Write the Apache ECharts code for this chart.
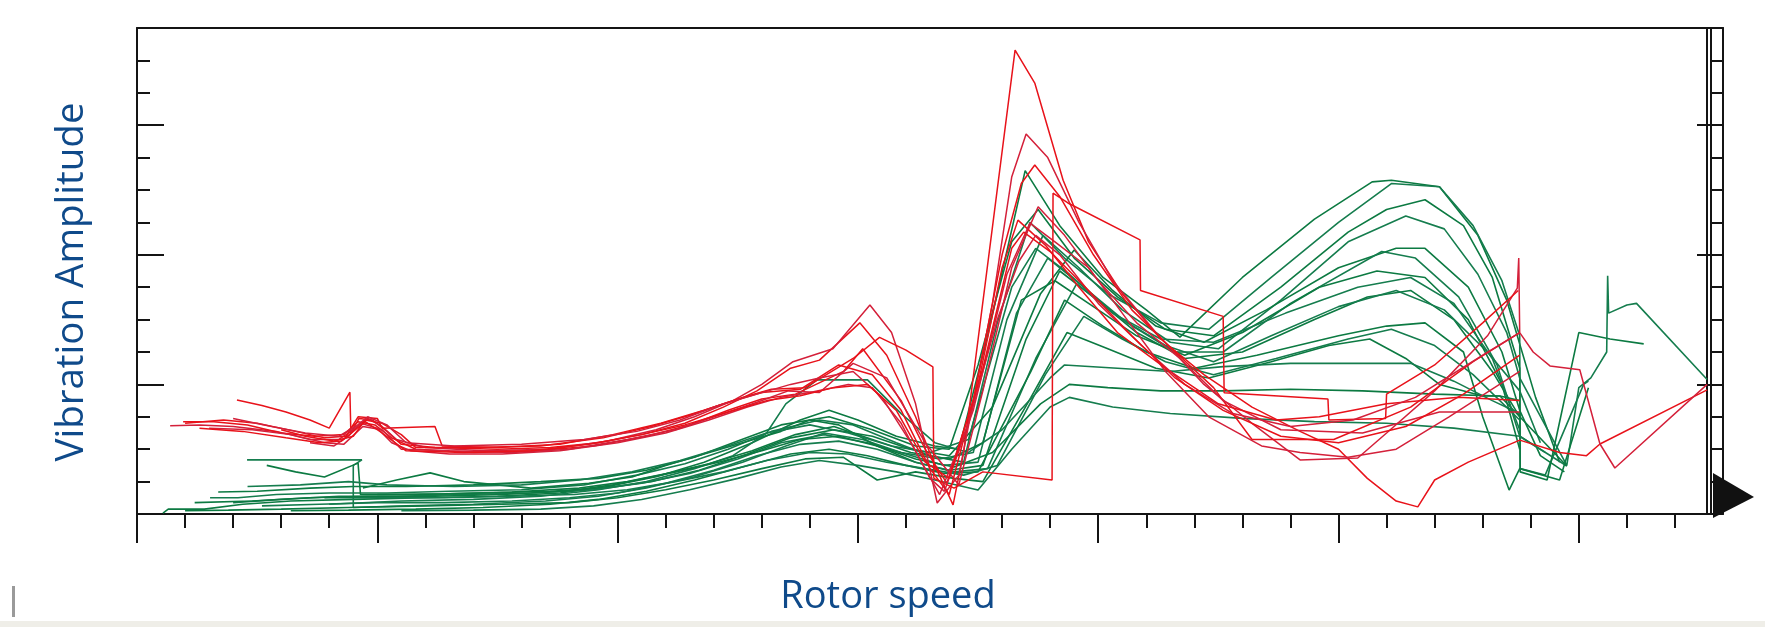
<!DOCTYPE html>
<html lang="en">
<head>
<meta charset="UTF-8">
<title>Vibration amplitude vs rotor speed</title>
<script src="https://cdn.jsdelivr.net/npm/echarts@6/dist/echarts.min.js"></script>
<style>
    html, body { margin: 0; padding: 0; background: #fff; }
    #container { width: 1765px; height: 627px; }
</style>
</head>
<body>
<div id="container"></div>
<script type="text/javascript">
// x = rotor speed, y = vibration amplitude, both in small-tick units
// red runs
const red1 = [[2.08,3.52],[2.6,3.35],[3.1,3.15],[3.6,2.9],[4.0,2.65],[4.43,3.76],[4.45,2.5],[4.62,2.95],[4.9,2.9],[5.2,2.55],[5.5,2.15],[6.2,2.05],[7.5,2.0],[8.6,2.05],[9.6,2.2],[10.5,2.45],[11.4,2.8],[12.2,3.3],[12.9,3.8],[13.6,4.5],[14.2,4.75],[15.04,5.9],[15.6,4.9],[16.2,3.0],[16.6,1.5],[16.98,0.28],[17.2,1.9],[18.27,14.32],[18.68,13.3],[19.27,10.3],[19.8,8.4],[20.5,6.8],[21.3,5.4],[22.2,4.3],[23.2,3.3],[24.2,2.55],[25.0,2.0],[25.6,1.1],[26.2,0.4],[26.65,0.22],[27.0,1.05],[27.7,1.6],[28.77,2.28],[29.6,1.9],[30.16,1.8],[30.44,2.16],[32.67,3.83]];
const red2 = [[0.69,2.72],[1.3,2.75],[2.0,2.7],[2.9,2.55],[3.6,2.3],[4.2,2.3],[4.5,2.6],[4.8,2.95],[5.1,2.7],[5.4,2.3],[6.0,2.05],[7.2,1.95],[8.6,2.0],[9.8,2.25],[10.8,2.6],[11.6,3.0],[12.4,3.5],[13.0,4.0],[13.65,4.7],[14.48,5.1],[15.25,6.45],[15.7,5.6],[16.2,3.4],[16.65,0.34],[17.1,1.2],[17.8,6.5],[18.2,10.4],[18.5,11.73],[18.95,11.0],[19.6,9.0],[20.3,7.2],[21.2,5.6],[22.2,4.0],[23.2,2.8],[24.2,1.67],[25.4,1.73],[26.0,2.5],[27.0,3.8],[28.1,5.5],[28.72,6.97],[28.75,7.9],[28.77,5.6],[29.05,5.0],[29.4,4.57],[30.02,4.45],[30.44,2.16],[30.75,1.42],[32.67,4.0]];
const red3 = [[0.96,2.85],[1.6,2.85],[2.3,2.75],[3.0,2.5],[3.7,2.4],[4.3,2.45],[4.6,2.85],[4.95,2.75],[5.3,2.35],[5.8,2.0],[7.0,1.9],[8.3,1.95],[9.5,2.1],[10.6,2.4],[11.5,2.75],[12.3,3.2],[13.0,3.55],[13.7,3.7],[14.7,4.4],[15.1,5.1],[15.9,3.5],[16.4,2.0],[16.85,0.95],[17.4,3.5],[18.0,8.0],[18.4,10.2],[18.68,10.77],[19.2,9.8],[19.9,8.0],[20.7,6.3],[21.6,5.0],[22.4,3.9],[23.2,2.3],[24.9,2.3],[26.5,3.3],[27.8,4.7],[28.77,5.6]];
const red4 = [[1.5,2.65],[2.4,2.6],[3.2,2.45],[3.9,2.2],[4.3,2.15],[4.7,2.7],[5.1,2.6],[5.5,2.0],[6.5,1.95],[7.8,1.9],[9.0,2.0],[10.2,2.3],[11.2,2.6],[12.1,3.05],[12.9,3.45],[13.55,3.8],[14.2,3.75],[14.9,4.65],[15.6,4.2],[16.4,2.2],[17.1,0.9],[17.6,3.8],[18.2,7.6],[18.75,9.48],[19.3,8.6],[20.0,7.2],[20.8,5.9],[21.7,4.8],[22.6,3.5],[23.8,2.6],[25.5,2.5],[27.1,3.15],[28.77,3.15]];
const red5 = [[3.0,2.6],[3.5,2.4],[4.1,2.25],[4.5,2.4],[4.75,2.9],[5.1,2.8],[5.5,2.45],[5.8,2.05],[7.0,2.05],[8.4,2.1],[9.7,2.35],[10.7,2.7],[11.5,3.05],[12.3,3.45],[13.0,3.75],[13.8,3.85],[14.6,4.6],[15.3,4.3],[15.9,3.2],[16.5,1.4],[16.9,0.6],[17.5,4.0],[18.0,7.6],[18.33,9.07],[18.9,8.3],[19.6,7.0],[20.4,5.6],[21.4,4.5],[22.5,3.4],[23.7,2.9],[24.6,3.0],[26.0,3.4],[27.5,3.6],[28.77,3.5]];
const red6 = [[3.6,2.2],[4.1,2.1],[4.4,2.4],[4.65,2.8],[5.0,2.65],[5.3,2.2],[5.7,1.95],[6.5,1.85],[7.6,1.85],[8.8,1.95],[10.0,2.2],[11.0,2.5],[11.9,2.9],[12.7,3.3],[13.4,3.6],[14.0,3.75],[14.8,4.0],[15.3,3.9],[15.9,2.8],[16.5,1.1],[16.8,0.7],[17.4,3.2],[18.1,7.4],[18.58,8.98],[19.1,8.4],[19.8,7.6],[20.6,6.0],[21.4,4.4],[22.3,3.0],[23.4,2.1],[24.2,1.9],[25.2,1.75],[26.2,2.0],[27.3,3.0],[28.77,4.4]];
const red7 = [[1.0,2.8],[1.8,2.9],[2.5,2.8],[3.3,2.55],[3.9,2.35],[4.35,2.4],[4.6,3.0],[5.0,2.95],[5.1,2.65],[6.2,2.7],[6.35,2.1],[7.5,2.05],[8.8,2.15],[9.9,2.45],[10.9,2.8],[11.8,3.2],[12.6,3.6],[13.2,3.85],[13.9,3.9],[14.9,4.8],[15.45,5.45],[16.0,5.06],[16.56,4.54],[16.58,1.1],[17.0,0.8],[17.6,1.3],[19.04,1.05],[19.06,9.9],[19.37,9.6],[20.87,8.46],[20.88,6.9],[22.6,6.1],[22.62,3.74],[24.78,3.55],[24.8,2.9],[25.98,2.95],[26.0,3.7],[27.0,4.6],[28.0,5.9],[28.74,6.9]];
const red8 = [[2.0,2.95],[2.8,2.7],[3.5,2.5],[4.2,2.4],[4.55,2.7],[4.8,3.0],[5.2,2.75],[5.6,2.2],[6.6,2.1],[8.0,2.15],[9.3,2.3],[10.4,2.55],[11.3,2.9],[12.1,3.35],[12.9,3.7],[13.6,4.0],[14.2,4.2],[14.9,4.4],[15.5,3.6],[16.1,2.2],[16.7,0.6],[17.3,2.8],[17.9,6.0],[18.35,7.8],[18.7,8.6],[19.2,8.0],[20.0,6.5],[20.9,5.2],[21.8,4.0],[22.8,3.1],[24.0,2.7],[25.3,2.9],[26.6,3.6],[28.0,4.9],[28.77,5.6]];
const red9 = [[1.3,2.65],[2.2,2.55],[3.1,2.35],[3.8,2.2],[4.25,2.25],[4.5,2.55],[4.75,2.85],[5.1,2.5],[5.6,1.95],[6.8,1.9],[8.2,1.95],[9.4,2.15],[10.5,2.45],[11.4,2.75],[12.3,3.15],[13.1,3.5],[13.8,3.65],[14.5,3.9],[15.2,4.0],[15.8,3.2],[16.4,1.6],[16.9,1.1],[17.6,4.5],[18.2,8.2],[18.45,8.7],[19.0,8.1],[19.8,6.9],[20.7,5.5],[21.6,4.2],[22.6,3.2],[23.8,2.4],[25.0,2.2],[26.4,2.7],[27.6,3.7],[28.77,4.9]];

// green runs
const green1 = [[0.54,0.03],[0.65,0.15],[1.4,0.15],[2.2,0.3],[3.2,0.4],[4.5,0.45],[6.0,0.5],[7.5,0.55],[8.8,0.65],[9.8,0.85],[10.8,1.15],[11.8,1.6],[12.8,2.2],[13.8,2.9],[14.4,3.2],[15.0,2.9],[15.8,2.4],[16.6,2.1],[17.1,2.0],[17.7,5.5],[18.48,10.6],[19.2,8.9],[20.1,7.3],[21.0,6.3],[21.7,5.46],[23.0,7.3],[24.5,9.1],[25.7,10.25],[26.1,10.3],[27.1,10.1],[27.9,8.6],[28.5,6.6],[29.1,3.6],[29.6,1.6]];
const green2 = [[1.52,0.5],[2.1,0.5],[2.9,0.6],[4.0,0.65],[5.2,0.65],[6.5,0.7],[8.0,0.75],[9.3,0.9],[10.4,1.2],[11.4,1.55],[12.3,2.0],[13.2,2.55],[14.2,2.9],[14.9,2.75],[15.8,2.2],[16.5,1.8],[17.2,1.6],[17.9,5.9],[18.58,9.0],[19.3,7.9],[20.2,6.8],[21.3,5.9],[22.3,5.7],[23.6,7.3],[25.0,9.0],[26.1,10.2],[27.1,10.1],[27.8,8.9],[28.4,7.2],[28.77,5.5],[28.78,1.4],[29.3,1.2],[30.1,4.0],[30.2,4.1]];
const green3 = [[1.69,0.68],[2.5,0.7],[3.6,0.8],[4.5,0.85],[5.6,0.85],[7.0,0.9],[8.4,1.0],[9.6,1.1],[10.6,1.35],[11.6,1.75],[12.5,2.25],[13.4,2.75],[14.4,3.0],[15.3,2.6],[16.2,2.1],[16.9,2.0],[17.5,4.6],[18.2,8.4],[18.75,9.4],[19.5,7.9],[20.4,6.7],[21.4,5.7],[22.4,5.5],[23.8,7.0],[25.2,8.7],[26.0,9.4],[26.8,9.7],[27.6,8.9],[28.2,7.3],[28.77,4.5],[28.78,1.3],[29.34,1.05],[30.0,5.6],[30.65,5.4],[31.35,5.25]];
const green4 = [[2.29,1.67],[4.68,1.67],[4.5,1.5],[4.5,0.2],[5.6,0.25],[7.0,0.3],[8.5,0.4],[9.6,0.55],[10.6,0.8],[11.6,1.15],[12.6,1.6],[13.5,2.1],[14.3,2.5],[15.1,2.3],[15.9,1.9],[16.7,1.7],[17.4,1.9],[18.1,6.0],[18.85,8.6],[19.6,7.6],[20.5,6.3],[21.5,5.3],[22.5,5.1],[23.8,6.6],[25.2,8.4],[26.4,9.2],[27.2,8.8],[27.9,7.4],[28.5,5.6],[28.77,4.2],[29.75,1.5],[30.0,3.9],[30.25,4.2],[30.58,5.0],[30.6,7.35],[30.62,6.2],[31.0,6.45],[31.2,6.5],[32.67,4.15]];
const green5 = [[2.7,1.5],[3.3,1.3],[3.9,1.14],[4.6,1.57],[4.65,0.6],[5.8,0.6],[7.2,0.65],[8.6,0.7],[9.7,0.8],[10.7,1.0],[11.7,1.35],[12.7,1.85],[13.6,2.35],[14.5,2.6],[15.3,2.4],[16.1,2.0],[16.9,1.8],[17.8,3.3],[18.8,6.8],[19.5,8.15],[20.3,6.9],[21.2,5.8],[22.2,5.3],[23.5,6.3],[25.0,7.6],[26.2,8.2],[26.8,8.2],[27.7,7.0],[28.4,5.0],[28.77,3.2],[29.2,1.8],[29.7,1.3]];
const green6 = [[2.0,0.35],[3.0,0.45],[4.2,0.55],[5.4,0.55],[6.8,0.6],[8.2,0.65],[9.5,0.75],[10.5,0.95],[11.5,1.25],[12.5,1.7],[13.4,2.2],[14.3,2.45],[15.2,2.2],[16.0,1.85],[16.8,1.5],[17.5,1.6],[18.3,6.2],[18.95,7.9],[19.7,7.0],[20.6,5.9],[21.6,5.0],[22.6,5.0],[24.0,6.5],[25.9,8.1],[26.6,7.9],[27.5,6.7],[28.3,4.6],[28.77,2.4],[29.75,1.48]];
const green7 = [[4.7,0.8],[5.4,1.05],[6.1,1.27],[6.8,1.0],[8.2,0.8],[9.4,0.95],[10.3,1.14],[11.0,1.5],[11.8,1.85],[12.6,2.2],[13.4,2.55],[14.0,2.9],[14.6,2.75],[15.4,2.1],[16.2,1.6],[16.9,1.35],[17.6,1.5],[18.5,5.4],[19.2,7.5],[19.9,6.7],[20.8,5.6],[21.8,4.8],[23.0,5.0],[24.5,6.0],[25.6,6.7],[26.5,6.9],[27.4,6.0],[28.2,4.4],[28.77,3.0]];
const green8 = [[2.6,0.25],[3.8,0.3],[5.0,0.35],[6.4,0.35],[7.8,0.4],[9.0,0.5],[10.0,0.65],[11.0,0.95],[12.0,1.35],[12.9,1.8],[13.8,2.15],[14.6,2.25],[15.4,2.0],[16.2,1.6],[17.0,1.3],[17.7,1.4],[18.7,4.8],[19.55,7.1],[20.4,6.1],[21.4,5.2],[22.4,4.7],[23.6,5.5],[25.0,6.4],[26.2,6.9],[27.2,6.3],[28.1,5.0],[28.77,3.8],[29.2,2.2]];
const green9 = [[3.2,0.1],[4.4,0.12],[5.8,0.15],[7.2,0.2],[8.6,0.3],[9.6,0.45],[10.6,0.7],[11.6,1.05],[12.6,1.45],[13.6,1.85],[14.4,2.0],[15.2,1.8],[16.0,1.5],[16.8,1.25],[17.5,1.3],[18.6,4.4],[19.3,6.6],[20.1,5.8],[21.0,5.0],[22.0,4.5],[23.3,4.9],[25.0,5.5],[26.0,5.8],[26.8,5.9],[27.6,5.0],[28.0,3.0],[28.55,0.74],[28.77,1.4],[29.6,1.05],[30.2,3.9]];
const green10 = [[3.9,0.5],[5.0,0.5],[6.4,0.5],[7.8,0.55],[9.1,0.6],[10.2,0.75],[11.2,1.0],[12.2,1.3],[13.1,1.65],[14.0,1.9],[14.8,1.85],[15.6,1.6],[16.4,1.4],[17.2,1.2],[17.9,1.5],[18.9,4.3],[19.7,6.1],[20.5,5.4],[21.4,4.7],[22.4,4.3],[23.7,4.8],[25.2,5.4],[26.1,5.7],[27.0,5.2],[27.8,4.3],[28.77,2.9]];
const green11 = [[1.0,0.1],[1.9,0.12],[3.0,0.15],[4.4,0.2],[6.0,0.25],[7.6,0.3],[9.0,0.35],[10.0,0.5],[11.0,0.75],[12.0,1.05],[13.0,1.4],[13.9,1.7],[14.7,1.75],[15.4,1.05],[16.2,1.3],[17.0,1.1],[17.6,1.0],[18.6,3.6],[19.35,5.6],[20.2,5.1],[21.2,4.5],[22.3,4.2],[23.6,4.7],[24.8,5.2],[25.65,5.4],[26.4,4.8],[27.1,4.0],[28.0,3.64],[28.36,3.64],[29.75,1.48]];
const green12 = [[4.0,0.3],[5.5,0.4],[7.0,0.45],[8.4,0.55],[9.6,0.75],[10.6,1.0],[11.6,1.4],[12.4,1.8],[13.1,2.5],[13.5,3.4],[14.15,4.14],[15.2,4.14],[15.9,3.1],[16.6,2.2],[17.3,1.9],[18.0,2.6],[19.0,4.2],[19.3,4.6],[20.4,4.5],[21.5,4.4],[22.6,4.55],[24.0,4.65],[25.5,4.65],[26.5,4.65],[27.4,4.1],[28.2,3.5],[28.77,3.1]];
const green13 = [[5.0,0.6],[6.4,0.62],[7.8,0.68],[9.2,0.8],[10.2,1.0],[11.2,1.3],[12.1,1.6],[13.0,1.95],[13.8,2.3],[14.6,2.4],[15.4,2.1],[16.2,1.7],[17.0,1.45],[17.8,1.9],[18.8,3.4],[19.4,4.0],[20.2,3.9],[21.3,3.8],[22.6,3.8],[24.0,3.85],[25.5,3.8],[27.0,3.7],[28.36,3.64],[28.77,3.5]];
const green14 = [[5.5,0.1],[7.0,0.12],[8.4,0.15],[9.5,0.25],[10.5,0.45],[11.5,0.75],[12.5,1.1],[13.4,1.45],[14.2,1.65],[15.0,1.5],[15.8,1.3],[16.6,1.05],[17.5,0.74],[18.2,2.0],[19.0,3.3],[19.4,3.6],[20.3,3.3],[21.5,3.1],[23.0,2.95],[24.5,2.85],[26.0,2.8],[27.4,2.65],[28.77,2.4],[29.3,1.9]];
const green15 = [[1.2,0.35],[2.4,0.4],[3.6,0.5],[4.8,0.55],[6.2,0.55],[7.6,0.6],[8.9,0.7],[9.9,0.9],[10.9,1.2],[11.9,1.55],[12.8,1.95],[13.7,2.45],[14.5,2.7],[15.3,2.3],[16.1,1.9],[16.9,1.7],[17.6,2.2],[18.4,6.6],[19.1,7.2],[19.9,6.4],[20.8,5.5],[21.8,4.9],[23.0,5.6],[24.6,7.0],[25.8,7.5],[26.8,7.3],[27.7,6.0],[28.4,4.0],[28.77,2.0]];
const green16 = [[2.3,0.85],[3.4,0.9],[4.4,1.0],[5.2,0.9],[6.6,0.85],[8.0,0.9],[9.2,1.05],[10.3,1.3],[11.3,1.65],[12.2,2.05],[13.1,2.5],[14.0,2.75],[14.8,2.5],[15.7,2.1],[16.5,1.9],[17.3,2.3],[18.2,7.0],[18.7,8.2],[19.4,7.4],[20.3,6.2],[21.3,5.4],[22.4,5.3],[23.9,6.2],[25.4,7.0],[26.5,7.3],[27.4,6.5],[28.2,4.8],[28.77,2.6]];

const redRuns = [red1, red2, red3, red4, red5, red6, red7, red8, red9];
const greenRuns = [green1, green2, green3, green4, green5, green6, green7, green8,
    green9, green10, green11, green12, green13, green14, green15, green16];

const redColors = ['#e8121a', '#d4203a'];
const greenColors = ['#0c7a42', '#157d4e'];
const titleColor = '#0f4a8a';
const ink = '#141414';

let dom = document.getElementById('container');
let myChart = echarts.init(dom);

let series = [];
greenRuns.forEach(function (run, i) {
    series.push({
        type: 'line', data: run, showSymbol: false, silent: true,
        lineStyle: {width: 1.6, color: greenColors[i % 2]}, z: 2
    });
});
redRuns.forEach(function (run, i) {
    series.push({
        type: 'line', data: run, showSymbol: false, silent: true,
        lineStyle: {width: 1.5, color: redColors[i % 2]}, z: 3
    });
});

let option = {
    animation: false,
    backgroundColor: '#ffffff',
    grid: {left: 137, top: 28, width: 1586, height: 486, containLabel: false},
    xAxis: [
        {
            type: 'value', min: 0, max: 33, interval: 5, position: 'bottom',
            name: 'Rotor speed', nameLocation: 'middle', nameGap: 64,
            nameTextStyle: {fontFamily: 'Open Sans', fontSize: 38, fontWeight: 500, color: titleColor, padding: [0, 84, 0, 0]},
            axisLine: {show: true, onZero: false, lineStyle: {color: ink, width: 2}},
            axisTick: {show: true, inside: false, length: 29, customValues: [0, 5, 10, 15, 20, 25, 30], lineStyle: {color: ink, width: 2}},
            minorTick: {show: true, splitNumber: 5, length: 14, lineStyle: {color: ink, width: 2}},
            axisLabel: {show: false},
            splitLine: {show: false}
        },
        {
            type: 'value', min: 0, max: 33, position: 'top',
            axisLine: {show: true, onZero: false, lineStyle: {color: ink, width: 2}},
            axisTick: {show: false}, axisLabel: {show: false}, splitLine: {show: false}
        }
    ],
    yAxis: [
        {
            type: 'value', min: 0, max: 15, interval: 4, position: 'left',
            name: 'Vibration Amplitude', nameLocation: 'middle', nameGap: 45, nameRotate: 90,
            nameTextStyle: {fontFamily: 'Open Sans', fontSize: 38.5, fontWeight: 500, color: titleColor, padding: [0, 22, 0, 0]},
            axisLine: {show: true, onZero: false, lineStyle: {color: ink, width: 2}},
            axisTick: {show: true, inside: true, length: 27, customValues: [4, 8, 12], lineStyle: {color: ink, width: 2}},
            minorTick: {show: true, splitNumber: 4, length: 13, lineStyle: {color: ink, width: 2}},
            axisLabel: {show: false},
            splitLine: {show: false}
        },
        {
            // outer ladder
            type: 'value', min: 0, max: 15, interval: 1, position: 'right',
            axisLine: {show: true, onZero: false, lineStyle: {color: ink, width: 2}},
            axisTick: {show: true, inside: true, length: 12, lineStyle: {color: ink, width: 2}},
            axisLabel: {show: false}, splitLine: {show: false}
        },
        {
            type: 'value', min: 0, max: 15, interval: 4, position: 'right', offset: -12,
            axisLine: {show: true, onZero: false, lineStyle: {color: ink, width: 2}},
            axisTick: {show: true, inside: true, length: 14, customValues: [4, 8, 12], lineStyle: {color: ink, width: 2}},
            axisLabel: {show: false}, splitLine: {show: false}
        },
        {
            type: 'value', min: 0, max: 15, position: 'right', offset: -16,
            axisLine: {show: true, onZero: false, lineStyle: {color: ink, width: 2}},
            axisTick: {show: false}, axisLabel: {show: false}, splitLine: {show: false}
        }
    ],
    graphic: [
        {type: 'polygon', shape: {points: [[1713, 473], [1713, 518], [1754, 497]]}, style: {fill: '#111'}, z: 10},
        {type: 'rect', shape: {x: 12, y: 586, width: 3, height: 31}, style: {fill: '#9a9a9a'}},
        {type: 'rect', shape: {x: 0, y: 621, width: 1765, height: 6}, style: {fill: '#efeee8'}}
    ],
    series: series
};

myChart.setOption(option);
</script>
</body>
</html>
